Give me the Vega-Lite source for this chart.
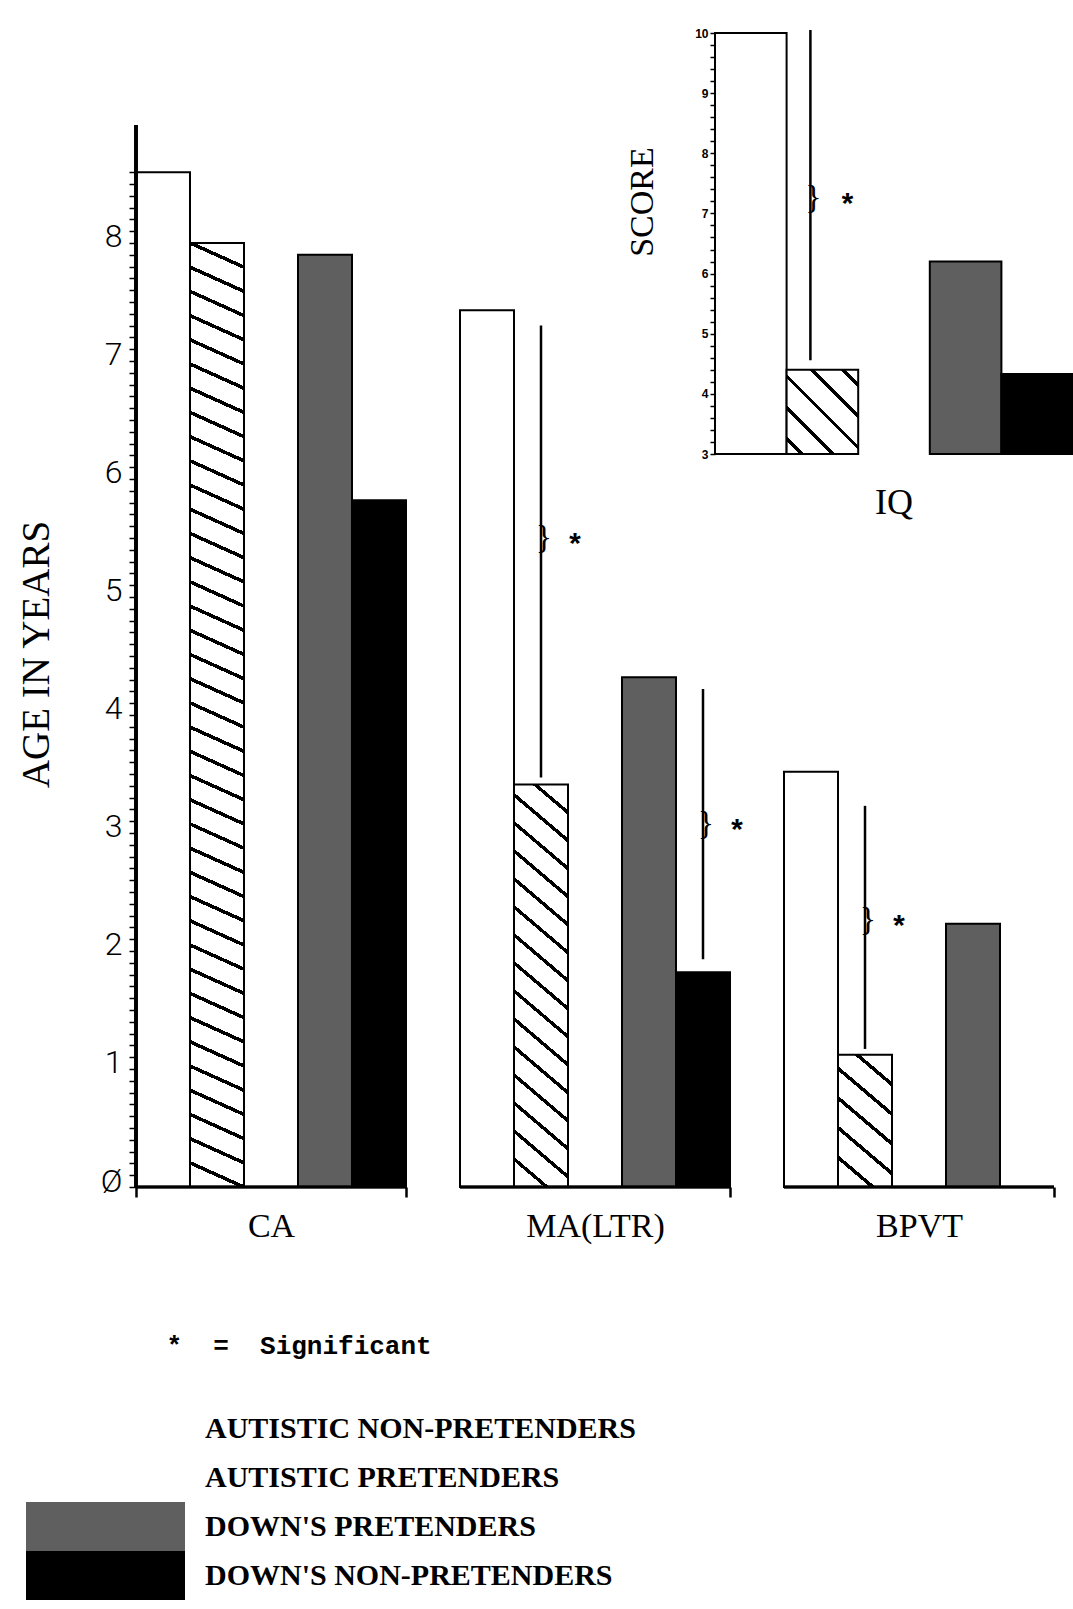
{
"$schema": "https://vega.github.io/schema/vega-lite/v6.json",
"autosize": {"type": "none"},
"padding": {"left": 136, "top": 30, "right": 0, "bottom": 422},
"width": 937,
"height": 1157,
"background": "#ffffff",
"config": {"view": {"stroke": null}, "axis": {"grid": false}},
"datasets": {
 "bars": [
  {"chart":"main","group":"CA","series":"AUTISTIC PRETENDERS","value":8.6},
  {"chart":"main","group":"CA","series":"AUTISTIC NON-PRETENDERS","value":8.0},
  {"chart":"main","group":"CA","series":"DOWN'S PRETENDERS","value":7.9},
  {"chart":"main","group":"CA","series":"DOWN'S NON-PRETENDERS","value":5.82},
  {"chart":"main","group":"MA(LTR)","series":"AUTISTIC PRETENDERS","value":7.43},
  {"chart":"main","group":"MA(LTR)","series":"AUTISTIC NON-PRETENDERS","value":3.41},
  {"chart":"main","group":"MA(LTR)","series":"DOWN'S PRETENDERS","value":4.32},
  {"chart":"main","group":"MA(LTR)","series":"DOWN'S NON-PRETENDERS","value":1.82},
  {"chart":"main","group":"BPVT","series":"AUTISTIC PRETENDERS","value":3.52},
  {"chart":"main","group":"BPVT","series":"AUTISTIC NON-PRETENDERS","value":1.12},
  {"chart":"main","group":"BPVT","series":"DOWN'S PRETENDERS","value":2.23},
  {"chart":"main","group":"BPVT","series":"DOWN'S NON-PRETENDERS","value":0},
  {"chart":"inset","group":"IQ","series":"AUTISTIC PRETENDERS","value":10.0},
  {"chart":"inset","group":"IQ","series":"AUTISTIC NON-PRETENDERS","value":4.4},
  {"chart":"inset","group":"IQ","series":"DOWN'S PRETENDERS","value":6.2},
  {"chart":"inset","group":"IQ","series":"DOWN'S NON-PRETENDERS","value":4.33}
 ],
 "sig": [
  {"chart":"main","group":"MA(LTR)","series":"AUTISTIC NON-PRETENDERS","top":7.3,"bottom":3.47,"star":5.5},
  {"chart":"main","group":"MA(LTR)","series":"DOWN'S NON-PRETENDERS","top":4.22,"bottom":1.93,"star":3.08},
  {"chart":"main","group":"BPVT","series":"AUTISTIC NON-PRETENDERS","top":3.23,"bottom":1.17,"star":2.26},
  {"chart":"inset","group":"IQ","series":"AUTISTIC NON-PRETENDERS","top":10.05,"bottom":4.56,"star":7.26}
 ]
},
"layer": [
 {
  "encoding": {
   "x": {"field":"group","type":"nominal","title":null,"sort":["CA","MA(LTR)","BPVT"],
    "scale":{"domain":["CA","MA(LTR)","BPVT"],"paddingInner":0.16667,"paddingOuter":0.02932,"align":0},
    "axis":{"domain":false,"grid":false,"tickBand":"extent","tickSize":10,"tickWidth":2.5,"tickColor":"#000","labelFont":"Liberation Serif","labelFontSize":34,"labelColor":"#000","labelPadding":12,"labelAngle":0,"title":null}},
   "y": {"field":"value","type":"quantitative",
    "scale":{"domain":[0,9.805],"nice":false,"zero":false},
    "axis":{"values":[0,0.1,0.2,0.3,0.4,0.5,0.6,0.7,0.8,0.9,1,1.1,1.2,1.3,1.4,1.5,1.6,1.7,1.8,1.9,2,2.1,2.2,2.3,2.4,2.5,2.6,2.7,2.8,2.9,3,3.1,3.2,3.3,3.4,3.5,3.6,3.7,3.8,3.9,4,4.1,4.2,4.3,4.4,4.5,4.6,4.7,4.8,4.9,5,5.1,5.2,5.3,5.4,5.5,5.6,5.7,5.8,5.9,6,6.1,6.2,6.3,6.4,6.5,6.6,6.7,6.8,6.9,7,7.1,7.2,7.3,7.4,7.5,7.6,7.7,7.8,7.9,8,8.1,8.2,8.3,8.4,8.5,8.6],
     "labelExpr":"abs(datum.value - round(datum.value)) < 0.001 ? (datum.value == 0 ? 'Ø' : format(datum.value, 'd')) : ''",
     "domain":false,"grid":false,"tickSize":7,"tickWidth":1.5,"tickColor":"#000",
     "labelFont":"Roboto","labelFontWeight":300,"labelFontSize":32,"labelColor":"#000","labelPadding":7,"labelOffset":-6,"labelOverlap":false,"labelBound":false,"labelFlush":false,
     "title":"AGE IN YEARS","titleFont":"Liberation Serif","titleFontSize":39,"titleFontWeight":"normal","titleColor":"#000","titleAngle":270,"titleX":-100,"titleY":624,"titleAlign":"center","titleBaseline":"middle"}}
  },
  "layer": [
   {
    "data": {"name":"bars"},
    "transform": [{"filter":"datum.chart === 'main'"}],
    "mark": {"type":"bar","stroke":"#000","strokeWidth":2},
    "encoding": {
     "xOffset": {"field":"series","type":"nominal","scale":{"domain":["AUTISTIC PRETENDERS","AUTISTIC NON-PRETENDERS"," ","DOWN'S PRETENDERS","DOWN'S NON-PRETENDERS"],"paddingInner":0,"paddingOuter":0}},
     "y2": {"datum":0},
     "fill": {
      "field":"series","type":"nominal",
      "scale":{"domain":["AUTISTIC NON-PRETENDERS","AUTISTIC PRETENDERS","DOWN'S PRETENDERS","DOWN'S NON-PRETENDERS"],"range":["#ffffff","#ffffff","#5f5f5f","#000000"]},
      "legend":{"orient":"none","legendX":-110,"legendY":1303,"padding":0,
       "title":"\u200b\u00a0\u00a0\u00a0\u00a0\u00a0\u00a0\u00a0\u00a0\u00a0*\u00a0\u00a0=\u00a0\u00a0Significant","titleFont":"Liberation Mono","titleFontSize":26,"titleFontWeight":"bold","titleColor":"#000","titlePadding":45,"titleAnchor":"start","titleLimit":1000,
       "symbolType":"M-1,-0.308H1V0.308H-1Z","symbolSize":25281,"symbolStrokeWidth":0,"symbolOffset":0,"clipHeight":49,"rowPadding":0,
       "labelFont":"Liberation Serif","labelFontSize":30,"labelFontWeight":"bold","labelColor":"#000","labelOffset":20,"labelLimit":900},
      "condition":[
       {"test":"datum.group === 'CA' && datum.series === 'AUTISTIC NON-PRETENDERS'","value":{"gradient":"linear","x1":0,"y1":1,"x2":0.02639,"y2":-0.02506,"stops":[
        {"offset":0.023,"color":"#fff"},{"offset":0.023,"color":"#000"},{"offset":0.027,"color":"#000"},{"offset":0.027,"color":"#fff"},
        {"offset":0.048,"color":"#fff"},{"offset":0.048,"color":"#000"},{"offset":0.052,"color":"#000"},{"offset":0.052,"color":"#fff"},
        {"offset":0.073,"color":"#fff"},{"offset":0.073,"color":"#000"},{"offset":0.077,"color":"#000"},{"offset":0.077,"color":"#fff"},
        {"offset":0.098,"color":"#fff"},{"offset":0.098,"color":"#000"},{"offset":0.102,"color":"#000"},{"offset":0.102,"color":"#fff"},
        {"offset":0.123,"color":"#fff"},{"offset":0.123,"color":"#000"},{"offset":0.127,"color":"#000"},{"offset":0.127,"color":"#fff"},
        {"offset":0.148,"color":"#fff"},{"offset":0.148,"color":"#000"},{"offset":0.152,"color":"#000"},{"offset":0.152,"color":"#fff"},
        {"offset":0.173,"color":"#fff"},{"offset":0.173,"color":"#000"},{"offset":0.177,"color":"#000"},{"offset":0.177,"color":"#fff"},
        {"offset":0.198,"color":"#fff"},{"offset":0.198,"color":"#000"},{"offset":0.202,"color":"#000"},{"offset":0.202,"color":"#fff"},
        {"offset":0.223,"color":"#fff"},{"offset":0.223,"color":"#000"},{"offset":0.227,"color":"#000"},{"offset":0.227,"color":"#fff"},
        {"offset":0.248,"color":"#fff"},{"offset":0.248,"color":"#000"},{"offset":0.252,"color":"#000"},{"offset":0.252,"color":"#fff"},
        {"offset":0.273,"color":"#fff"},{"offset":0.273,"color":"#000"},{"offset":0.277,"color":"#000"},{"offset":0.277,"color":"#fff"},
        {"offset":0.298,"color":"#fff"},{"offset":0.298,"color":"#000"},{"offset":0.302,"color":"#000"},{"offset":0.302,"color":"#fff"},
        {"offset":0.323,"color":"#fff"},{"offset":0.323,"color":"#000"},{"offset":0.327,"color":"#000"},{"offset":0.327,"color":"#fff"},
        {"offset":0.348,"color":"#fff"},{"offset":0.348,"color":"#000"},{"offset":0.352,"color":"#000"},{"offset":0.352,"color":"#fff"},
        {"offset":0.373,"color":"#fff"},{"offset":0.373,"color":"#000"},{"offset":0.377,"color":"#000"},{"offset":0.377,"color":"#fff"},
        {"offset":0.398,"color":"#fff"},{"offset":0.398,"color":"#000"},{"offset":0.402,"color":"#000"},{"offset":0.402,"color":"#fff"},
        {"offset":0.423,"color":"#fff"},{"offset":0.423,"color":"#000"},{"offset":0.427,"color":"#000"},{"offset":0.427,"color":"#fff"},
        {"offset":0.448,"color":"#fff"},{"offset":0.448,"color":"#000"},{"offset":0.452,"color":"#000"},{"offset":0.452,"color":"#fff"},
        {"offset":0.473,"color":"#fff"},{"offset":0.473,"color":"#000"},{"offset":0.477,"color":"#000"},{"offset":0.477,"color":"#fff"},
        {"offset":0.498,"color":"#fff"},{"offset":0.498,"color":"#000"},{"offset":0.502,"color":"#000"},{"offset":0.502,"color":"#fff"},
        {"offset":0.523,"color":"#fff"},{"offset":0.523,"color":"#000"},{"offset":0.527,"color":"#000"},{"offset":0.527,"color":"#fff"},
        {"offset":0.548,"color":"#fff"},{"offset":0.548,"color":"#000"},{"offset":0.552,"color":"#000"},{"offset":0.552,"color":"#fff"},
        {"offset":0.573,"color":"#fff"},{"offset":0.573,"color":"#000"},{"offset":0.577,"color":"#000"},{"offset":0.577,"color":"#fff"},
        {"offset":0.598,"color":"#fff"},{"offset":0.598,"color":"#000"},{"offset":0.602,"color":"#000"},{"offset":0.602,"color":"#fff"},
        {"offset":0.623,"color":"#fff"},{"offset":0.623,"color":"#000"},{"offset":0.627,"color":"#000"},{"offset":0.627,"color":"#fff"},
        {"offset":0.648,"color":"#fff"},{"offset":0.648,"color":"#000"},{"offset":0.652,"color":"#000"},{"offset":0.652,"color":"#fff"},
        {"offset":0.673,"color":"#fff"},{"offset":0.673,"color":"#000"},{"offset":0.677,"color":"#000"},{"offset":0.677,"color":"#fff"},
        {"offset":0.698,"color":"#fff"},{"offset":0.698,"color":"#000"},{"offset":0.702,"color":"#000"},{"offset":0.702,"color":"#fff"},
        {"offset":0.723,"color":"#fff"},{"offset":0.723,"color":"#000"},{"offset":0.727,"color":"#000"},{"offset":0.727,"color":"#fff"},
        {"offset":0.748,"color":"#fff"},{"offset":0.748,"color":"#000"},{"offset":0.752,"color":"#000"},{"offset":0.752,"color":"#fff"},
        {"offset":0.773,"color":"#fff"},{"offset":0.773,"color":"#000"},{"offset":0.777,"color":"#000"},{"offset":0.777,"color":"#fff"},
        {"offset":0.798,"color":"#fff"},{"offset":0.798,"color":"#000"},{"offset":0.802,"color":"#000"},{"offset":0.802,"color":"#fff"},
        {"offset":0.823,"color":"#fff"},{"offset":0.823,"color":"#000"},{"offset":0.827,"color":"#000"},{"offset":0.827,"color":"#fff"},
        {"offset":0.848,"color":"#fff"},{"offset":0.848,"color":"#000"},{"offset":0.852,"color":"#000"},{"offset":0.852,"color":"#fff"},
        {"offset":0.873,"color":"#fff"},{"offset":0.873,"color":"#000"},{"offset":0.877,"color":"#000"},{"offset":0.877,"color":"#fff"},
        {"offset":0.898,"color":"#fff"},{"offset":0.898,"color":"#000"},{"offset":0.902,"color":"#000"},{"offset":0.902,"color":"#fff"},
        {"offset":0.923,"color":"#fff"},{"offset":0.923,"color":"#000"},{"offset":0.927,"color":"#000"},{"offset":0.927,"color":"#fff"},
        {"offset":0.948,"color":"#fff"},{"offset":0.948,"color":"#000"},{"offset":0.952,"color":"#000"},{"offset":0.952,"color":"#fff"},
        {"offset":0.973,"color":"#fff"},{"offset":0.973,"color":"#000"},{"offset":0.977,"color":"#000"},{"offset":0.977,"color":"#fff"}]}},
       {"test":"datum.group === 'MA(LTR)' && datum.series === 'AUTISTIC NON-PRETENDERS'","value":{"gradient":"linear","x1":0,"y1":1,"x2":0.12544,"y2":-0.09976,"stops":[
        {"offset":0.0575,"color":"#fff"},{"offset":0.0575,"color":"#000"},{"offset":0.0675,"color":"#000"},{"offset":0.0675,"color":"#fff"},
        {"offset":0.12,"color":"#fff"},{"offset":0.12,"color":"#000"},{"offset":0.13,"color":"#000"},{"offset":0.13,"color":"#fff"},
        {"offset":0.1825,"color":"#fff"},{"offset":0.1825,"color":"#000"},{"offset":0.1925,"color":"#000"},{"offset":0.1925,"color":"#fff"},
        {"offset":0.245,"color":"#fff"},{"offset":0.245,"color":"#000"},{"offset":0.255,"color":"#000"},{"offset":0.255,"color":"#fff"},
        {"offset":0.3075,"color":"#fff"},{"offset":0.3075,"color":"#000"},{"offset":0.3175,"color":"#000"},{"offset":0.3175,"color":"#fff"},
        {"offset":0.37,"color":"#fff"},{"offset":0.37,"color":"#000"},{"offset":0.38,"color":"#000"},{"offset":0.38,"color":"#fff"},
        {"offset":0.4325,"color":"#fff"},{"offset":0.4325,"color":"#000"},{"offset":0.4425,"color":"#000"},{"offset":0.4425,"color":"#fff"},
        {"offset":0.495,"color":"#fff"},{"offset":0.495,"color":"#000"},{"offset":0.505,"color":"#000"},{"offset":0.505,"color":"#fff"},
        {"offset":0.5575,"color":"#fff"},{"offset":0.5575,"color":"#000"},{"offset":0.5675,"color":"#000"},{"offset":0.5675,"color":"#fff"},
        {"offset":0.62,"color":"#fff"},{"offset":0.62,"color":"#000"},{"offset":0.63,"color":"#000"},{"offset":0.63,"color":"#fff"},
        {"offset":0.6825,"color":"#fff"},{"offset":0.6825,"color":"#000"},{"offset":0.6925,"color":"#000"},{"offset":0.6925,"color":"#fff"},
        {"offset":0.745,"color":"#fff"},{"offset":0.745,"color":"#000"},{"offset":0.755,"color":"#000"},{"offset":0.755,"color":"#fff"},
        {"offset":0.8075,"color":"#fff"},{"offset":0.8075,"color":"#000"},{"offset":0.8175,"color":"#000"},{"offset":0.8175,"color":"#fff"},
        {"offset":0.87,"color":"#fff"},{"offset":0.87,"color":"#000"},{"offset":0.88,"color":"#000"},{"offset":0.88,"color":"#fff"},
        {"offset":0.9325,"color":"#fff"},{"offset":0.9325,"color":"#000"},{"offset":0.9425,"color":"#000"},{"offset":0.9425,"color":"#fff"}]}},
       {"test":"datum.group === 'BPVT' && datum.series === 'AUTISTIC NON-PRETENDERS'","value":{"gradient":"linear","x1":0,"y1":1,"x2":0.41743,"y2":-0.20227,"stops":[
        {"offset":0.1537,"color":"#fff"},{"offset":0.1537,"color":"#000"},{"offset":0.1797,"color":"#000"},{"offset":0.1797,"color":"#fff"},
        {"offset":0.3203,"color":"#fff"},{"offset":0.3203,"color":"#000"},{"offset":0.3463,"color":"#000"},{"offset":0.3463,"color":"#fff"},
        {"offset":0.487,"color":"#fff"},{"offset":0.487,"color":"#000"},{"offset":0.513,"color":"#000"},{"offset":0.513,"color":"#fff"},
        {"offset":0.6537,"color":"#fff"},{"offset":0.6537,"color":"#000"},{"offset":0.6797,"color":"#000"},{"offset":0.6797,"color":"#fff"},
        {"offset":0.8203,"color":"#fff"},{"offset":0.8203,"color":"#000"},{"offset":0.8463,"color":"#000"},{"offset":0.8463,"color":"#fff"}]}}
      ]
     }
    }
   },
   {
    "data": {"name":"bars"},
    "transform": [{"filter":"datum.chart === 'main'"}],
    "mark": {"type":"rule","color":"#000","strokeWidth":2.5},
    "encoding": {
     "x": {"field":"group","type":"nominal","title":null,"bandPosition":0},
     "x2": {"field":"group","bandPosition":1},
     "y": {"datum":0,"type":"quantitative"}
    }
   },
   {
    "data": {"name":"bars"},
    "transform": [{"filter":"datum.chart === 'main'"}],
    "mark": {"type":"rule","color":"#000","strokeWidth":2.5},
    "encoding": {
     "x": {"datum":"CA","type":"nominal","bandPosition":0},
     "y": {"datum":0,"type":"quantitative"},
     "y2": {"datum":9}
    }
   },
   {
    "data": {"name":"sig"},
    "transform": [{"filter":"datum.chart === 'main'"}],
    "mark": {"type":"rule","color":"#000","strokeWidth":2.5},
    "encoding": {
     "xOffset": {"field":"series","type":"nominal"},
     "y": {"field":"top","type":"quantitative","title":null},
     "y2": {"field":"bottom"}
    }
   },
   {
    "data": {"name":"sig"},
    "transform": [{"filter":"datum.chart === 'main'"}],
    "mark": {"type":"text","text":"}","font":"Liberation Serif","fontSize":34,"dx":3,"baseline":"middle","align":"center","color":"#000"},
    "encoding": {
     "xOffset": {"field":"series","type":"nominal"},
     "y": {"field":"star","type":"quantitative","title":null}
    }
   },
   {
    "data": {"name":"sig"},
    "transform": [{"filter":"datum.chart === 'main'"}],
    "mark": {"type":"text","text":"*","font":"Liberation Mono","fontWeight":"bold","fontSize":30,"dx":34,"dy":8,"baseline":"middle","align":"center","color":"#000"},
    "encoding": {
     "xOffset": {"field":"series","type":"nominal"},
     "y": {"field":"star","type":"quantitative","title":null}
    }
   }
  ]
 },
 {
  "encoding": {
   "x": {"field":"series","type":"nominal","title":null,
    "scale":{"domain":["AUTISTIC PRETENDERS","AUTISTIC NON-PRETENDERS"," ","DOWN'S PRETENDERS","DOWN'S NON-PRETENDERS"],"range":[579,937],"paddingInner":0,"paddingOuter":0},
    "axis":null},
   "y": {"field":"value","type":"quantitative",
    "scale":{"domain":[3,10],"range":[424,3],"nice":false,"zero":false},
    "axis":{"orient":"left","offset":-579,"values":[3,3.2,3.4,3.6,3.8,4,4.2,4.4,4.6,4.8,5,5.2,5.4,5.6,5.8,6,6.2,6.4,6.6,6.8,7,7.2,7.4,7.6,7.8,8,8.2,8.4,8.6,8.8,9,9.2,9.4,9.6,9.8,10],
     "labelExpr":"abs(datum.value - round(datum.value)) < 0.001 ? format(datum.value, 'd') : ''",
     "domain":true,"domainColor":"#000","domainWidth":2.5,"grid":false,"tickSize":5,"tickWidth":1.5,"tickColor":"#000","labelFont":"Liberation Sans","labelFontSize":12,"labelFontWeight":"bold","labelColor":"#000","labelPadding":2,"labelOverlap":false,"labelBound":false,"title":null}}
  },
  "layer": [
   {
    "data": {"name":"bars"},
    "transform": [{"filter":"datum.chart === 'inset'"}],
    "mark": {"type":"bar","stroke":"#000","strokeWidth":2},
    "encoding": {
     "y2": {"datum":3},
     "fill": {"condition":[
      {"test":"datum.series === 'AUTISTIC NON-PRETENDERS'","value":{"gradient":"linear","x1":0,"y1":1,"x2":0.91316,"y2":-0.07385,"stops":[
       {"offset":0.084,"color":"#fff"},{"offset":0.084,"color":"#000"},{"offset":0.116,"color":"#000"},{"offset":0.116,"color":"#fff"},
       {"offset":0.284,"color":"#fff"},{"offset":0.284,"color":"#000"},{"offset":0.316,"color":"#000"},{"offset":0.316,"color":"#fff"},
       {"offset":0.484,"color":"#fff"},{"offset":0.484,"color":"#000"},{"offset":0.516,"color":"#000"},{"offset":0.516,"color":"#fff"},
       {"offset":0.684,"color":"#fff"},{"offset":0.684,"color":"#000"},{"offset":0.716,"color":"#000"},{"offset":0.716,"color":"#fff"},
       {"offset":0.884,"color":"#fff"},{"offset":0.884,"color":"#000"},{"offset":0.916,"color":"#000"},{"offset":0.916,"color":"#fff"}]}},
      {"test":"datum.series === \"DOWN'S PRETENDERS\"","value":"#5f5f5f"},
      {"test":"datum.series === \"DOWN'S NON-PRETENDERS\"","value":"#000000"}
     ],"value":"#ffffff"}
    }
   },
   {
    "data": {"name":"sig"},
    "transform": [{"filter":"datum.chart === 'inset'"}],
    "mark": {"type":"rule","color":"#000","strokeWidth":2.5,"xOffset":-12},
    "encoding": {
     "y": {"field":"top","type":"quantitative","title":null},
     "y2": {"field":"bottom"}
    }
   },
   {
    "data": {"name":"sig"},
    "transform": [{"filter":"datum.chart === 'inset'"}],
    "mark": {"type":"text","text":"}","font":"Liberation Serif","fontSize":34,"dx":-9,"baseline":"middle","align":"center","color":"#000"},
    "encoding": {
     "y": {"field":"star","type":"quantitative","title":null}
    }
   },
   {
    "data": {"name":"sig"},
    "transform": [{"filter":"datum.chart === 'inset'"}],
    "mark": {"type":"text","text":"*","font":"Liberation Mono","fontWeight":"bold","fontSize":30,"dx":25,"dy":8,"baseline":"middle","align":"center","color":"#000"},
    "encoding": {
     "y": {"field":"star","type":"quantitative","title":null}
    }
   },
   {
    "data": {"name":"bars"},
    "transform": [{"filter":"datum.chart === 'inset' && datum.series === 'AUTISTIC PRETENDERS'"}],
    "mark": {"type":"text","text":"IQ","font":"Liberation Serif","fontSize":36,"baseline":"middle","align":"center","dy":49,"color":"#000"},
    "encoding": {
     "x": {"datum":" ","type":"nominal"},
     "y": {"datum":3,"type":"quantitative"}
    }
   },
   {
    "data": {"name":"bars"},
    "transform": [{"filter":"datum.chart === 'inset' && datum.series === 'AUTISTIC PRETENDERS'"}],
    "mark": {"type":"text","text":"SCORE","font":"Liberation Serif","fontSize":34,"angle":270,"baseline":"middle","align":"center","dy":-108,"color":"#000"},
    "encoding": {
     "x": {"datum":"AUTISTIC PRETENDERS","type":"nominal"},
     "y": {"datum":7.19,"type":"quantitative"}
    }
   }
  ]
 }
],
"resolve": {"scale": {"x":"independent","y":"independent"}}
}
